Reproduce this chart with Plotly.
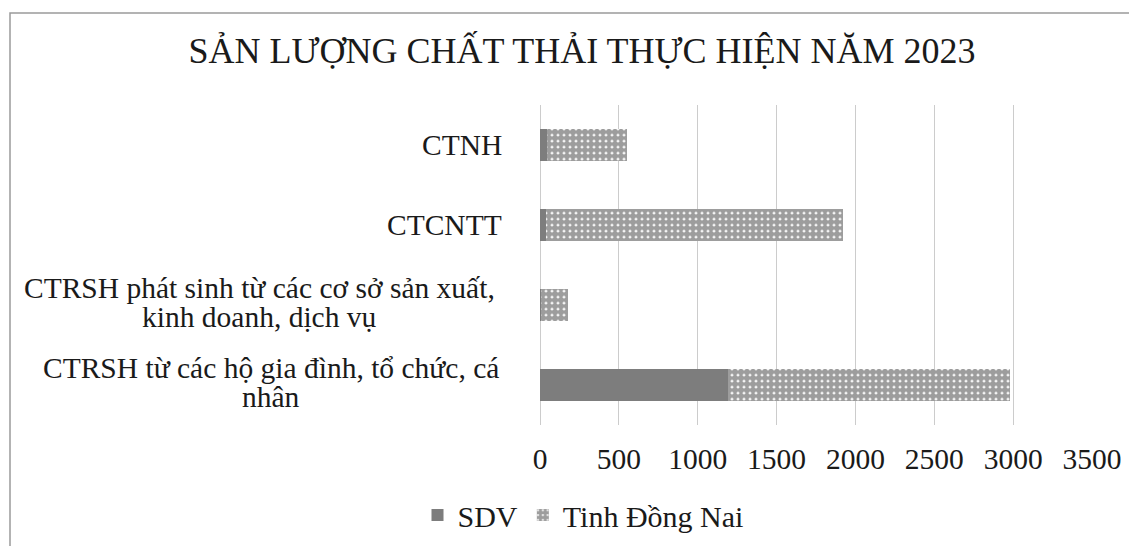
import plotly.graph_objects as go

categories = [
    "CTRSH từ các hộ gia đình, tổ chức, cá<br>nhân",
    "CTRSH phát sinh từ các cơ sở sản xuất,<br>kinh doanh, dịch vụ",
    "CTCNTT",
    "CTNH",
]
sdv_values = [1193, 5, 38, 45]
dongnai_values = [1785, 175, 1884, 505]
series_names = ["SDV", "Tinh Đồng Nai"]
x_ticks = [0, 500, 1000, 1500, 2000, 2500, 3000, 3500]
title_text = "SẢN LƯỢNG CHẤT THẢI THỰC HIỆN NĂM 2023"

FONT = "Liberation Serif, Times New Roman, serif"
TXT = "#1a1a1a"
OFF = 8  # browser body margin

# horizontal offset (px, left of the plot area) of the centre of each wrapped
# label, so that its lines are centred under each other
WRAP_CENTRE = {0: 269, 1: 281}
LABEL_GAP = 36
LINE = 29

fig = go.Figure()
fig.add_trace(go.Bar(
    y=categories, x=sdv_values, orientation="h", name=series_names[0],
    marker=dict(color="#7d7d7d", line=dict(width=0)),
))
fig.add_trace(go.Bar(
    y=categories, x=dongnai_values, orientation="h", name=series_names[1],
    marker=dict(color="white", line=dict(width=0),
                pattern=dict(shape=".", fgcolor="#3c3c3c", bgcolor="white",
                             size=6, solidity=0.8)),
))

for k, c in enumerate(categories):
    lines = c.split("<br>")
    n = len(lines)
    for i, ln in enumerate(lines):
        yshift = ((n - 1) / 2 - i) * LINE + (3 if n > 1 else 0)
        if n > 1:
            anchor = "center"
            xshift = -WRAP_CENTRE[k]
        else:
            anchor = "right"
            xshift = -LABEL_GAP
        fig.add_annotation(
            x=0, y=c, xref="paper", yref="y", xanchor=anchor, yanchor="middle",
            xshift=xshift, yshift=yshift, text=ln, showarrow=False,
            font=dict(family=FONT, size=29.5, color=TXT),
        )

fig.update_layout(
    width=1137, height=546,
    barmode="stack", bargap=0.6,
    paper_bgcolor="white", plot_bgcolor="white",
    margin=dict(l=540 - OFF, r=1137 + OFF - 1092, t=105 - OFF, b=546 + OFF - 425),
    title=dict(text=title_text, x=(582 - OFF) / 1137, xanchor="center",
               xref="container", yref="container", y=1 - (50 - OFF) / 546,
               yanchor="middle",
               font=dict(family=FONT, size=36, color=TXT)),
    font=dict(family=FONT, color=TXT),
    xaxis=dict(range=[0, 3500], tickvals=x_ticks, showgrid=True,
               gridcolor="#cccccc", gridwidth=1, zeroline=True,
               zerolinecolor="#cccccc", zerolinewidth=1, showline=False,
               ticks="", ticklabelstandoff=13,
               tickfont=dict(family=FONT, size=29.5, color=TXT)),
    yaxis=dict(showticklabels=False, showgrid=False, ticks="", showline=False),
    legend=dict(orientation="h", xref="container", yref="container",
                x=(583 - OFF) / 1137, xanchor="center",
                y=1 - (515 - OFF) / 546, yanchor="middle",
                font=dict(family=FONT, size=30, color=TXT),
                itemwidth=30, traceorder="normal"),
    shapes=[dict(type="rect", xref="paper", yref="paper",
                 x0=(10 - 540) / 552, x1=(1160 - 540) / 552,
                 y0=(425 - 570) / 320, y1=(425 - 13) / 320,
                 line=dict(color="#9a9a9a", width=1.5))],
)

fig.write_html("out.html")
